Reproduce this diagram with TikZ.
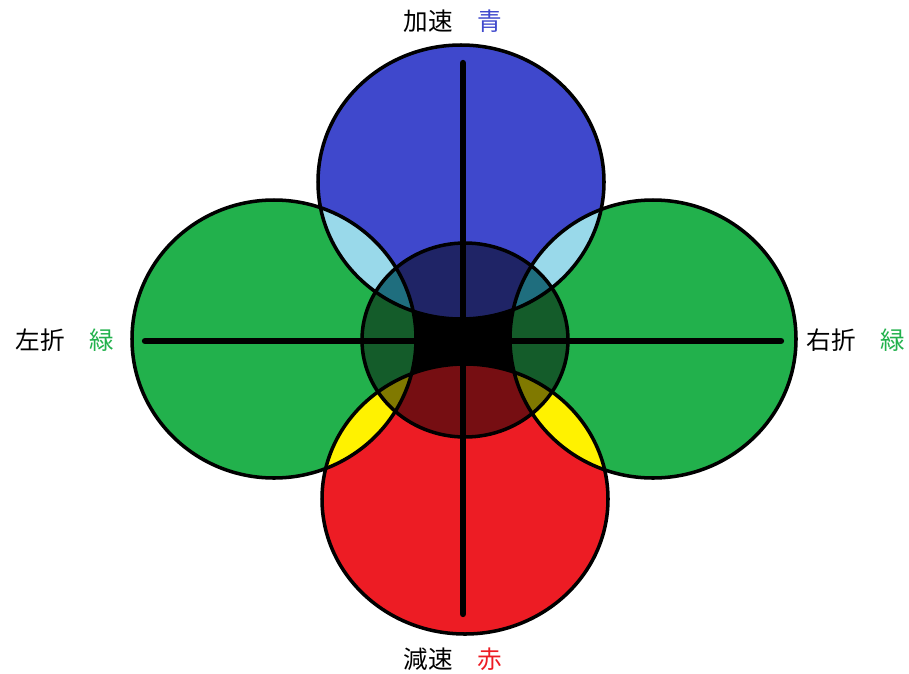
\documentclass[tikz,border=0pt]{standalone}
\usepackage{fontspec}
\newfontfamily\jp{Noto Sans CJK JP}
\usepackage{tikz}
\usetikzlibrary{positioning}

\definecolor{padblue}{HTML}{3F48CC}
\definecolor{padgreen}{HTML}{22B14C}
\definecolor{padred}{HTML}{ED1C24}
\definecolor{padyellow}{HTML}{FFF200}
\definecolor{padsky}{HTML}{99D9EA}
\definecolor{darkblue}{HTML}{1F2466}
\definecolor{darkgreen}{HTML}{145C2A}
\definecolor{darkred}{HTML}{760E12}
\definecolor{darkteal}{HTML}{1F6E7E}
\definecolor{darkolive}{HTML}{807900}

\begin{document}
\begin{tikzpicture}[x=0.02cm,y=-0.02cm,node distance=0.48cm,
  every node/.style={font=\jp\fontsize{14}{16}\selectfont,inner sep=0pt},
  ring/.style={draw=black,line width=2pt},
  axis/.style={draw=black,line width=3.6pt,line cap=round}]
\useasboundingbox (0,0) rectangle (909,673);
\def\up{(461,182) ellipse [x radius=143, y radius=137]}
\def\down{(465,499) ellipse [x radius=143, y radius=135]}
\def\lft{(274,339) ellipse [x radius=142, y radius=139]}
\def\rgt{(653,339) ellipse [x radius=143, y radius=139]}
\def\mid{(465,340) ellipse [x radius=103, y radius=97]}
% big discs
\fill[padblue] \up;
\fill[padred] \down;
\fill[padgreen] \lft;
\fill[padgreen] \rgt;
% overlaps
\begin{scope}
  \clip \up;
  \fill[padsky] \lft; \fill[padsky] \rgt;
\end{scope}
\begin{scope}
  \clip \down;
  \fill[padyellow] \lft; \fill[padyellow] \rgt;
\end{scope}
% centre disc
\fill[black] \mid;
\begin{scope}
  \clip \mid;
  \fill[darkblue] \up;
  \fill[darkred] \down;
  \fill[darkgreen] \lft; \fill[darkgreen] \rgt;
  \begin{scope}
    \clip \up;
    \fill[darkteal] \lft; \fill[darkteal] \rgt;
  \end{scope}
  \begin{scope}
    \clip \down;
    \fill[darkolive] \lft; \fill[darkolive] \rgt;
  \end{scope}
\end{scope}
% outlines
\draw[ring] \up;
\draw[ring] \down;
\draw[ring] \lft;
\draw[ring] \rgt;
\draw[ring] \mid;
% cross
\coordinate (top) at (463,63);
\coordinate (bot) at (463,614);
\coordinate (west) at (145,341);
\coordinate (east) at (781,341);
\draw[axis] (top) -- (bot);
\draw[axis] (west) -- (east);
% labels
\node (accel) at (428,21) {加速};
\node[right=of accel,text=padblue] (accelc) {青};
\node (left) at (40,340) {左折};
\node[right=of left,text=padgreen] (leftc) {緑};
\node (right) at (831,340) {右折};
\node[right=of right,text=padgreen] (rightc) {緑};
\node (brake) at (428,659) {減速};
\node[right=of brake,text=padred] (brakec) {赤};
\end{tikzpicture}
\end{document}
